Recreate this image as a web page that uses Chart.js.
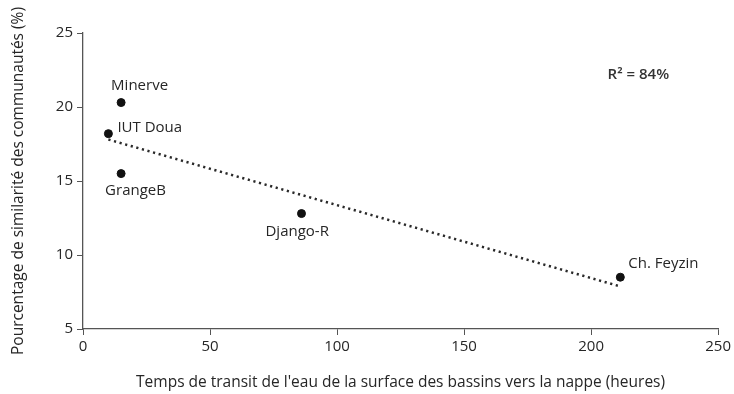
<!DOCTYPE html>
<html lang="fr">
<head>
<meta charset="UTF-8">
<title>Similarité des communautés</title>
<style>
    html, body { margin: 0; padding: 0; background: #fff; }
    #wrap { width: 734px; height: 394px; position: relative; }
</style>
</head>
<body>
<div id="wrap"><canvas id="chart" width="734" height="394"></canvas></div>
<script src="https://cdn.jsdelivr.net/npm/chart.js"></script>
<script>
// données
const sites = ["Minerve", "IUT Doua", "GrangeB", "Django-R", "Ch. Feyzin"];
const transitHours = [15, 10, 15, 86, 211.5];
const similarity = [20.3, 18.2, 15.5, 12.8, 8.5];
const trendX = [10, 211];
const trendY = [17.8, 7.9];
const xTicks = [0, 50, 100, 150, 200, 250];
const yTicks = [5, 10, 15, 20, 25];
const r2Text = "R\u00b2 = 84%";

const FONT = "'Open Sans', Lato, sans-serif";
const AXIS = "#555";
const TEXT = "#262626";

// décalage des étiquettes par rapport au point (px)
const labelOffsets = {
    "Minerve":    [-10, -17],
    "IUT Doua":   [9, -6],
    "GrangeB":    [-16, 17],
    "Django-R":   [-36, 18],
    "Ch. Feyzin": [8, -13]
};

const labelPlugin = {
    id: 'siteLabels',
    afterDatasetsDraw(chart) {
        const ctx = chart.ctx;
        const meta = chart.getDatasetMeta(1);
        ctx.save();
        ctx.font = "15px " + FONT;
        ctx.fillStyle = TEXT;
        ctx.textBaseline = "middle";
        ctx.textAlign = "left";
        meta.data.forEach((pt, i) => {
            const off = labelOffsets[sites[i]];
            ctx.fillText(sites[i], pt.x + off[0], pt.y + off[1]);
        });
        // coefficient de détermination
        const xs = chart.scales.x, ys = chart.scales.y;
        ctx.font = "600 15px " + FONT;
        ctx.fillStyle = "#333";
        ctx.fillText(r2Text, xs.getPixelForValue(206.5), ys.getPixelForValue(22.2));
        ctx.restore();
    }
};

new Chart(document.getElementById("chart"), {
    type: "scatter",
    data: {
        datasets: [{
            type: "line",
            data: trendX.map((x, i) => ({ x: x, y: trendY[i] })),
            borderColor: "#2a2a2a",
            borderWidth: 2.5,
            borderDash: [2.2, 3.6],
            pointRadius: 0,
            fill: false
        }, {
            data: transitHours.map((x, i) => ({ x: x, y: similarity[i] })),
            backgroundColor: "#111",
            borderColor: "#111",
            pointRadius: 4,
            pointHoverRadius: 4
        }]
    },
    options: {
        responsive: false,
        animation: false,
        devicePixelRatio: 1,
        layout: { padding: { top: 33, right: 13, left: 0, bottom: 0 } },
        plugins: { legend: { display: false }, tooltip: { enabled: false } },
        scales: {
            x: {
                type: "linear",
                min: 0, max: 250,
                afterBuildTicks: s => { s.ticks = xTicks.map(v => ({ value: v })); },
                afterFit: s => { s.height = 65; },
                grid: { drawOnChartArea: false, tickLength: 6, color: AXIS },
                border: { color: AXIS, width: 1.3 },
                ticks: { color: TEXT, font: { size: 15, family: FONT }, padding: 3 },
                title: {
                    display: true,
                    text: "Temps de transit de l'eau de la surface des bassins vers la nappe (heures)",
                    color: TEXT,
                    font: { size: 15.5, family: FONT },
                    padding: { top: 6, bottom: 2 }
                }
            },
            y: {
                type: "linear",
                min: 5, max: 25,
                afterBuildTicks: s => { s.ticks = yTicks.map(v => ({ value: v })); },
                afterFit: s => { s.width = 83; },
                grid: { drawOnChartArea: false, tickLength: 6, color: AXIS },
                border: { color: AXIS, width: 1.3 },
                ticks: { color: TEXT, font: { size: 15, family: FONT }, padding: 4 },
                title: {
                    display: true,
                    text: "Pourcentage de similarité des communautés (%)",
                    color: TEXT,
                    font: { size: 15.5, family: FONT },
                    padding: { top: 9, bottom: 8 }
                }
            }
        }
    },
    plugins: [labelPlugin]
});
</script>
</body>
</html>
